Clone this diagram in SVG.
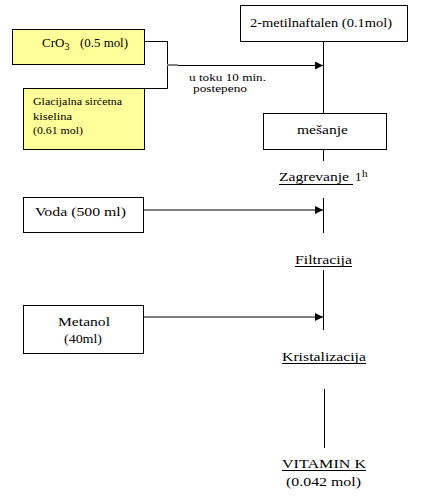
<svg xmlns="http://www.w3.org/2000/svg" width="422" height="499" viewBox="0 0 422 499">
<style>
text{font-family:"Liberation Serif","Times New Roman","DejaVu Serif","Noto Serif",serif;fill:#000}
.t{font-size:13px}
.s{font-size:11px}
.box{fill:#fff;stroke:#000;stroke-width:1}
.yb{fill:#ffff99;stroke:#000;stroke-width:1}
.v{stroke:#000;stroke-width:1;fill:none}
.g{stroke:#808080;stroke-width:2;fill:none}
.u{stroke:#000;stroke-width:1}
</style>
<defs>
<marker id="ah" markerWidth="8" markerHeight="8" refX="8" refY="4" orient="auto" markerUnits="userSpaceOnUse">
<path d="M0,0 L8,4 L0,8 Z" fill="#000"/>
</marker>
</defs>
<rect width="422" height="499" fill="#fff"/>
<g id="connectors">
<polyline class="v" points="144.5,41.5 167.5,41.5 167.5,88.5 144,88.5"/>
<line class="g" x1="167" y1="65" x2="178" y2="65"/>
<line class="v" x1="178" y1="65.5" x2="323" y2="65.5" marker-end="url(#ah)"/>
<line class="v" x1="323.5" y1="41" x2="323.5" y2="113"/>
<line class="v" x1="323.5" y1="149" x2="323.5" y2="161"/>
<line class="g" x1="144" y1="210" x2="323" y2="210" marker-end="url(#ah)"/>
<line class="v" x1="323.5" y1="198" x2="323.5" y2="233"/>
<line class="v" x1="323.5" y1="270" x2="323.5" y2="330"/>
<line class="g" x1="144" y1="317" x2="323" y2="317" marker-end="url(#ah)"/>
<line class="v" x1="324.5" y1="389" x2="324.5" y2="448"/>
</g>
<g id="metilnaftalen">
<rect class="box" x="240.5" y="5.5" width="167" height="36"/>
<text class="t" x="250" y="27" textLength="142" lengthAdjust="spacingAndGlyphs">2-metilnaftalen (0.1mol)</text>
</g>
<g id="cro3">
<rect class="yb" x="12.5" y="29.5" width="132" height="35"/>
<text class="t" x="42" y="47">CrO<tspan font-size="10" dy="3">3</tspan></text>
<text class="t" x="80" y="47" textLength="48" lengthAdjust="spacingAndGlyphs">(0.5 mol)</text>
</g>
<g id="glacijalna">
<rect class="yb" x="23.5" y="88.5" width="121" height="61"/>
<text class="s" x="33" y="105" textLength="89" lengthAdjust="spacingAndGlyphs">Glacijalna sirćetna</text>
<text class="s" x="33" y="120" textLength="39" lengthAdjust="spacingAndGlyphs">kiselina</text>
<text class="s" x="33" y="134" textLength="50" lengthAdjust="spacingAndGlyphs">(0.61 mol)</text>
</g>
<g id="label-u-toku">
<text class="s" x="189" y="81" textLength="77" lengthAdjust="spacingAndGlyphs">u toku 10  min.</text>
<text class="s" x="193" y="92" textLength="54" lengthAdjust="spacingAndGlyphs">postepeno</text>
</g>
<g id="mesanje">
<rect class="box" x="263.5" y="113.5" width="123" height="36"/>
<text class="t" x="297" y="134" textLength="51" lengthAdjust="spacingAndGlyphs">mešanje</text>
</g>
<g id="zagrevanje">
<text class="t" x="279" y="181" textLength="70" lengthAdjust="spacingAndGlyphs">Zagrevanje</text>
<text class="t" x="355" y="181">1</text>
<text class="s" x="362" y="177">h</text>
<line class="u" x1="279" y1="184.5" x2="353" y2="184.5"/>
</g>
<g id="voda">
<rect class="box" x="23.5" y="197.5" width="120" height="35"/>
<text class="t" x="35" y="216" textLength="91" lengthAdjust="spacingAndGlyphs">Voda (500 ml)</text>
</g>
<g id="filtracija">
<text class="t" x="295" y="264" textLength="57" lengthAdjust="spacingAndGlyphs">Filtracija</text>
<line class="u" x1="295" y1="266.5" x2="352" y2="266.5"/>
</g>
<g id="metanol">
<rect class="box" x="23.5" y="305.5" width="120" height="48"/>
<text class="t" x="58" y="326" textLength="52" lengthAdjust="spacingAndGlyphs">Metanol</text>
<text class="t" x="64" y="343" textLength="38" lengthAdjust="spacingAndGlyphs">(40ml)</text>
</g>
<g id="kristalizacija">
<text class="t" x="282" y="361" textLength="84" lengthAdjust="spacingAndGlyphs">Kristalizacija</text>
<line class="u" x1="282" y1="363.5" x2="366" y2="363.5"/>
</g>
<g id="vitamink">
<text class="t" x="282" y="468" textLength="84" lengthAdjust="spacingAndGlyphs">VITAMIN K</text>
<line class="u" x1="282" y1="470.5" x2="366" y2="470.5"/>
<text class="t" x="286" y="486" textLength="75" lengthAdjust="spacingAndGlyphs">(0.042 mol)</text>
</g>
</svg>
